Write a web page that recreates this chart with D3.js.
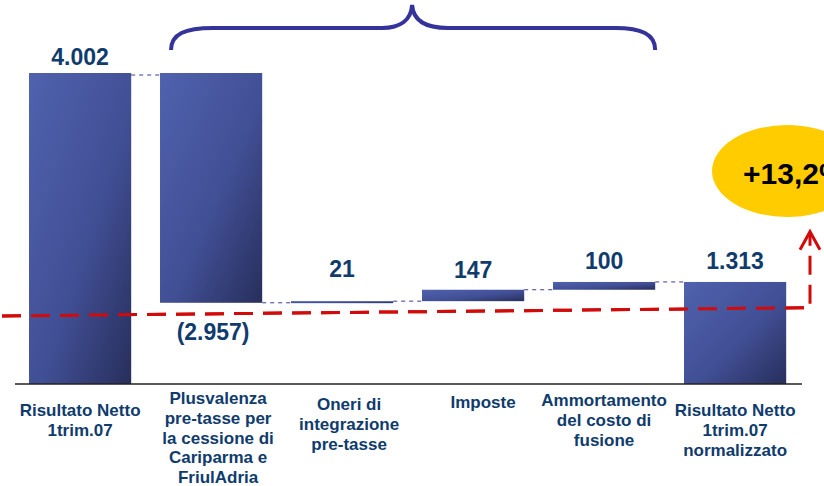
<!DOCTYPE html>
<html lang="it">
<head>
<meta charset="UTF-8">
<title>Risultato Netto 1trim.07</title>
<script src="https://d3js.org/d3.v7.min.js"></script>
<style>
  html, body { margin: 0; padding: 0; background: #fff; }
  svg { display: block; font-family: "Liberation Sans", Arial, sans-serif; }
</style>
</head>
<body>
<svg width="824" height="486"></svg>
<script>
// --- data ---
const categories = [
  ["Risultato Netto", "1trim.07"],
  ["Plusvalenza", "pre-tasse per", "la cessione di", "Cariparma e", "FriulAdria"],
  ["Oneri di", "integrazione", "pre-tasse"],
  ["Imposte"],
  ["Ammortamento", "del costo di", "fusione"],
  ["Risultato Netto", "1trim.07", "normalizzato"]
]
const values = [4002, -2957, 21, 147, 100, 1313]
const kinds = ["total", "delta", "delta", "delta", "delta", "total"]
const valueLabels = ["4.002", "(2.957)", "21", "147", "100", "1.313"]
const growthLabel = "+13,2%"
const trendLine = [875, 982]   // red dashed line, value at left / right end
const arrowTip = 1960          // red arrow tip value

// build waterfall steps
let running = 0
const steps = values.map((v, i) => {
  let lo, hi
  if (kinds[i] === "total") { lo = 0; hi = v; running = v }
  else { lo = running; hi = running + v; running = hi }
  return { i, v, y0: Math.min(lo, hi), y1: Math.max(lo, hi), end: running }
})

const svg = d3.select("svg")
const navy = "#0f3b6d"

const x = d3.scaleBand()
  .domain(d3.range(categories.length))
  .range([14.6, 800.6])
  .paddingInner(0.22)
  .paddingOuter(0.11)
const y = d3.scaleLinear().domain([0, 4002]).range([384, 73])

const defs = svg.append("defs")
const grad = defs.append("linearGradient")
  .attr("id", "barGrad")
  .attr("x1", 0).attr("y1", 0).attr("x2", 1).attr("y2", 1)
grad.append("stop").attr("offset", "0%").attr("stop-color", "#5062ae")
grad.append("stop").attr("offset", "55%").attr("stop-color", "#414f95")
grad.append("stop").attr("offset", "100%").attr("stop-color", "#282f5c")

// red dashed trend line + arrow (behind bars)
const xLeft = 2, xRight = 810
const red = svg.append("g")
  .attr("fill", "none")
  .attr("stroke", "#d10a0a")
  .attr("stroke-width", 3)
red.append("path")
  .attr("stroke-dasharray", "19,10")
  .attr("d", d3.line()([
    [xLeft, y(trendLine[0])],
    [xRight, y(trendLine[1])],
    [xRight, y(arrowTip) + 3]
  ]))
red.append("path")
  .attr("stroke-linejoin", "miter")
  .attr("d", d3.line()([
    [xRight - 10, y(arrowTip) + 18],
    [xRight, y(arrowTip)],
    [xRight + 10, y(arrowTip) + 18]
  ]))

// bars
svg.append("g")
  .selectAll("rect")
  .data(steps)
  .join("rect")
  .attr("x", d => x(d.i))
  .attr("width", x.bandwidth())
  .attr("y", d => y(d.y1))
  .attr("height", d => Math.max(2, y(d.y0) - y(d.y1)))
  .attr("fill", "url(#barGrad)")

// the red line crosses over the bars in the picture
svg.append("path")
  .attr("fill", "none")
  .attr("stroke", "#d10a0a")
  .attr("stroke-width", 3)
  .attr("stroke-dasharray", "19,10")
  .attr("d", d3.line()([
    [xLeft, y(trendLine[0])],
    [xRight, y(trendLine[1])]
  ]))

// thin connectors
svg.append("g")
  .attr("stroke", "#3a3a9a")
  .attr("stroke-width", 1)
  .attr("stroke-dasharray", "4,4")
  .selectAll("line")
  .data(steps.slice(0, -1))
  .join("line")
  .attr("x1", d => x(d.i) + x.bandwidth())
  .attr("x2", d => x(d.i + 1))
  .attr("y1", d => y(d.end) + (d.i === 0 ? 2 : 0))
  .attr("y2", d => y(d.end) + (d.i === 0 ? 2 : 0))

// baseline
svg.append("line")
  .attr("x1", 15).attr("x2", 802)
  .attr("y1", y(0)).attr("y2", y(0))
  .attr("stroke", "#222").attr("stroke-width", 1.5)

// value labels
const lift = [8, 0, 24, 12, 13, 13]
svg.append("g")
  .attr("font-weight", "bold")
  .attr("font-size", 23)
  .attr("fill", navy)
  .attr("text-anchor", "middle")
  .selectAll("text")
  .data(steps)
  .join("text")
  .attr("x", d => x(d.i) + x.bandwidth() / 2 + (d.v < 0 ? 2 : 0))
  .attr("y", d => d.v < 0 ? y(d.y0) + 37 : y(d.y1) - lift[d.i])
  .text(d => valueLabels[d.i])

// category labels
const firstLine = [32, 20, 26, 23.5, 22, 32]
const nudge = [0, 7, 7, 10, 0, 0]
const cat = svg.append("g")
  .attr("font-weight", "bold")
  .attr("font-size", 17)
  .attr("fill", navy)
  .attr("text-anchor", "middle")
  .selectAll("text")
  .data(categories)
  .join("text")
  .attr("x", (d, i) => x(i) + x.bandwidth() / 2 + nudge[i])
  .attr("y", (d, i) => y(0) + firstLine[i])
cat.selectAll("tspan")
  .data(d => d)
  .join("tspan")
  .attr("x", function () { return this.parentNode.getAttribute("x") })
  .attr("dy", (d, j) => j === 0 ? 0 : 19.8)
  .text(d => d)

// brace over the one-off items
const bl = x(1) + 11, br = x(4) + x.bandwidth(), bm = (bl + br) / 2 - 1
const by = 28, be = 50, bt = 5
svg.append("path")
  .attr("fill", "none")
  .attr("stroke", "#333399")
  .attr("stroke-width", 4)
  .attr("d", `M${bl},${be} C${bl},${by + 6} ${bl + 14},${by} ${bl + 42},${by}
    L${bm - 30},${by} C${bm - 12},${by} ${bm - 1},${by - 8} ${bm},${bt}
    C${bm + 1},${by - 8} ${bm + 12},${by} ${bm + 36},${by}
    L${br - 40},${by} C${br - 14},${by} ${br},${by + 6} ${br},${be}`)

// growth bubble (runs off the right edge, as in the original slide)
svg.append("ellipse")
  .attr("cx", 787).attr("cy", 171)
  .attr("rx", 75).attr("ry", 46)
  .attr("fill", "#ffcc00")
svg.append("text")
  .attr("x", 743).attr("y", 184)
  .attr("font-weight", "bold")
  .attr("font-size", 30)
  .attr("fill", "#000")
  .text(growthLabel)
</script>
</body>
</html>
